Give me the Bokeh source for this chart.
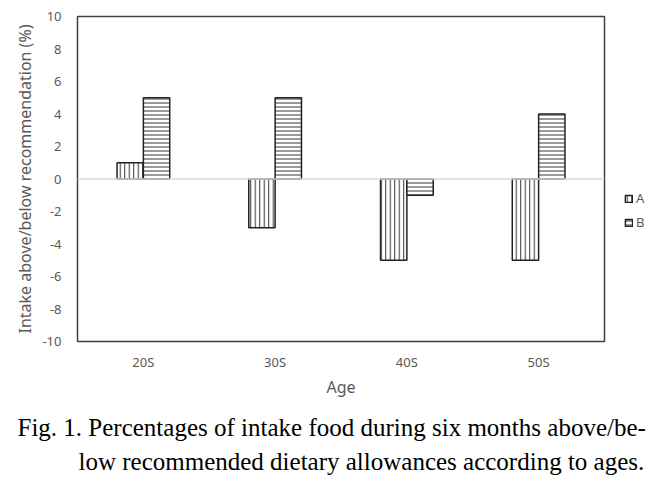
from bokeh.plotting import figure
from bokeh.models import Span, Legend, LegendItem, Title, ColumnDataSource, FixedTicker
from bokeh.transform import dodge
from bokeh.embed import file_html
from bokeh.resources import INLINE

ages = ["20S", "30S", "40S", "50S"]
series_a = [1, -3, -5, -5]
series_b = [5, 5, -1, 4]
y_ticks = [-10, -8, -6, -4, -2, 0, 2, 4, 6, 8, 10]
y_tick_labels = ["-10", "-8", "-6", "-4", "-2", "0", "2", "4", "6", "8", "10"]

src = ColumnDataSource(dict(age=ages, a=series_a, b=series_b))

p = figure(x_range=ages, y_range=(-10, 10), frame_width=527, frame_height=325,
           output_backend="svg", toolbar_location=None,
           min_border_left=77, min_border_top=16, min_border_right=10, min_border_bottom=0)

ra = p.vbar(x=dodge("age", -0.1, range=p.x_range), top="a", width=0.2, source=src,
            fill_color="white", line_color="#222222", line_width=1.5,
            hatch_pattern="vertical_line", hatch_scale=4.5, hatch_color="#333333", hatch_weight=1)
rb = p.vbar(x=dodge("age", 0.1, range=p.x_range), top="b", width=0.2, source=src,
            fill_color="white", line_color="#222222", line_width=1.5,
            hatch_pattern="horizontal_line", hatch_scale=4, hatch_color="#333333", hatch_weight=1)

p.add_layout(Span(location=0, dimension="width", line_color="#d9d9d9", line_width=1.5), "center")
p.renderers.insert(0, p.center.pop())

p.xgrid.visible = False
p.ygrid.visible = False
p.outline_line_color = "#404040"
p.outline_line_width = 1.5

p.yaxis.ticker = FixedTicker(ticks=y_ticks)
p.yaxis.major_label_overrides = dict(zip(y_ticks, y_tick_labels))
for ax in (p.xaxis[0], p.yaxis[0]):
    ax.axis_line_color = None
    ax.major_tick_line_color = None
    ax.minor_tick_line_color = None
    ax.major_label_text_color = "#595959"
    ax.major_label_text_font = "Noto Sans"
    ax.major_label_text_font_size = "13px"
    ax.axis_label_text_color = "#595959"
    ax.axis_label_text_font = "Noto Sans"
    ax.axis_label_text_font_style = "normal"
p.yaxis.axis_label = "Intake above/below recommendation (%)"
p.yaxis.axis_label_text_font_size = "16px"
p.yaxis.major_label_standoff = 10
p.yaxis.axis_label_standoff = 3
p.xaxis.axis_label = "Age"
p.xaxis.axis_label_text_font_size = "16px"
p.xaxis.major_label_standoff = 5
p.xaxis.axis_label_standoff = 2

legend = Legend(items=[LegendItem(label="A", renderers=[ra]), LegendItem(label="B", renderers=[rb])],
                location=(20, 110), orientation="vertical",
                border_line_alpha=0, background_fill_alpha=0,
                label_text_font="Noto Sans", label_text_font_size="13px", label_text_color="#595959",
                glyph_width=9, glyph_height=9, spacing=6, label_standoff=3, padding=0, margin=0)
p.add_layout(legend, "right")

t1 = Title(text="Fig. 1. Percentages of intake food during six months above/be-", align="left",
           offset=-60, text_font="Liberation Serif", text_font_size="25px",
           text_font_style="normal", text_color="black", standoff=23, padding=0)
t2 = Title(text="low recommended dietary allowances according to ages.", align="left",
           offset=1, text_font="Liberation Serif", text_font_size="25px",
           text_font_style="normal", text_color="black", standoff=-13, padding=0)
spacer = Title(text=" ", text_font_size="6px", standoff=0, padding=0)
p.add_layout(t1, "below")
p.add_layout(t2, "below")
p.add_layout(spacer, "below")

open("out.html", "w").write(file_html(p, INLINE))
